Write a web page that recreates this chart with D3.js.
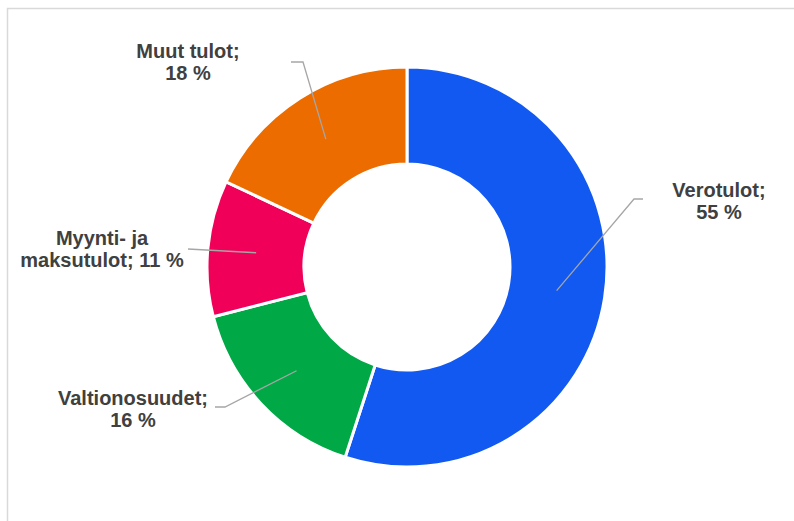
<!DOCTYPE html>
<html>
<head>
<meta charset="utf-8">
<script src="https://cdn.jsdelivr.net/npm/d3@7"></script>
<style>
  html, body { margin: 0; padding: 0; background: #fff; }
  #chart { width: 794px; height: 521px; }
</style>
</head>
<body>
<div id="chart"></div>
<script>
// ---- Data ----
const categories = ['Verotulot', 'Valtionosuudet', 'Myynti- ja maksutulot', 'Muut tulot'];
const shares = [55, 16, 11, 18];
const labelLines = [
  ['Verotulot;', '55 %'],
  ['Valtionosuudet;', '16 %'],
  ['Myynti- ja', 'maksutulot; 11 %'],
  ['Muut tulot;', '18 %']
];
const colors = ['#1259F2', '#00A846', '#F00058', '#EC6C00'];

// ---- Label layout (text centre, first baseline, leader elbow / end) ----
const labelLayout = [
  { x: 719, y: 197, elbow: [634, 199], end: [643, 199] },
  { x: 133, y: 405, elbow: [225, 407], end: [215, 407] },
  { x: 102, y: 245, elbow: null,       end: [188, 249] },
  { x: 188, y: 58,  elbow: [303, 62],  end: [291, 62] }
];

const W = 794, H = 521;
const cx = 407, cy = 267;
const outerR = 200, innerR = 103;

const svg = d3.select('#chart').append('svg')
  .attr('width', W)
  .attr('height', H)
  .attr('viewBox', `0 0 ${W} ${H}`)
  .style('display', 'block');

// ---- Frame ----
svg.append('path')
  .attr('d', `M7.5,${H} V8.5 H${W}`)
  .attr('fill', 'none')
  .attr('stroke', '#D9D9D9')
  .attr('stroke-width', 1.5);

const g = svg.append('g').attr('transform', `translate(${cx},${cy})`);

const pie = d3.pie().sort(null).value(d => d.value);
const arcs = pie(categories.map((c, i) => ({ name: c, value: shares[i], i })));
const arc = d3.arc().innerRadius(innerR).outerRadius(outerR);

// ---- Slices ----
g.selectAll('path.slice')
  .data(arcs)
  .enter().append('path')
  .attr('class', 'slice')
  .attr('d', arc)
  .attr('fill', d => colors[d.data.i])
  .attr('stroke', '#fff')
  .attr('stroke-width', 3);

// ---- Leader lines ----
arcs.forEach(d => {
  const L = labelLayout[d.data.i];
  const [px, py] = arc.centroid(d);
  const pts = [[cx + px, cy + py]];
  if (L.elbow) pts.push(L.elbow);
  pts.push(L.end);
  svg.append('path')
    .attr('d', d3.line()(pts))
    .attr('fill', 'none')
    .attr('stroke', '#A6A6A6')
    .attr('stroke-width', 1.3);
});

// ---- Labels ----
arcs.forEach(d => {
  const L = labelLayout[d.data.i];
  const t = svg.append('text')
    .attr('text-anchor', 'middle')
    .style('font-family', '"Liberation Sans", Arial, sans-serif')
    .style('font-weight', 'bold')
    .style('font-size', '20px')
    .style('fill', '#404040');
  labelLines[d.data.i].forEach((line, k) => {
    t.append('tspan')
      .attr('x', L.x)
      .attr('y', L.y + k * 22)
      .text(line);
  });
});
</script>
</body>
</html>
